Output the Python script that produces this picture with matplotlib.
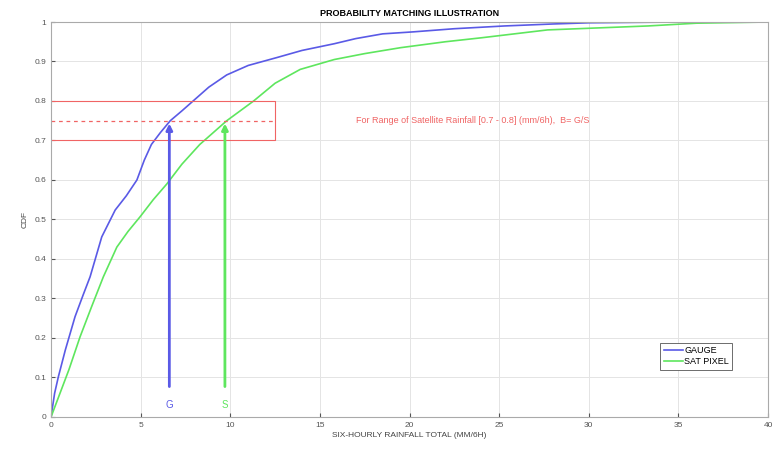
import matplotlib.pyplot as plt

# CDF readings (rainfall mm/6h, cumulative probability)
gauge_x = [0, 0.2, 0.41, 0.8, 1.34, 1.8, 2.18, 2.83, 3.58, 4.2, 4.79, 5.2, 5.6, 6.1, 6.65,
           7.3, 7.8, 8.8, 9.8, 11.0, 12.6, 14.0, 15.8, 17.0, 18.5, 20.2, 22.5, 25.3, 28.0,
           30.0, 35.0, 40.0]
gauge_y = [0, 0.06, 0.102, 0.17, 0.254, 0.31, 0.355, 0.456, 0.524, 0.56, 0.6, 0.65, 0.69,
           0.72, 0.75, 0.775, 0.795, 0.835, 0.866, 0.89, 0.91, 0.928, 0.945, 0.958, 0.97,
           0.975, 0.983, 0.99, 0.995, 0.998, 1.0, 1.0]

sat_x = [0, 0.5, 1.0, 1.62, 2.27, 2.92, 3.67, 4.3, 4.97, 5.7, 6.46, 7.3, 8.3, 9.8, 11.3,
         12.5, 13.9, 15.8, 17.5, 19.5, 22.0, 24.0, 27.7, 30.5, 33.3, 36.0, 40.0]
sat_y = [0, 0.06, 0.12, 0.203, 0.28, 0.355, 0.43, 0.47, 0.507, 0.55, 0.59, 0.64, 0.69,
         0.75, 0.8, 0.845, 0.88, 0.905, 0.92, 0.935, 0.95, 0.96, 0.98, 0.985, 0.99, 0.997,
         1.0]

prob_lo, prob_mid, prob_hi = 0.7, 0.75, 0.8
box_right = 12.5
g_value = 6.6
s_value = 9.7

blue = "#5a5ae6"
green = "#5ee65e"
red = "#f06464"

plt.rcParams["font.family"] = ["Liberation Sans", "DejaVu Sans"]

fig = plt.figure(figsize=(7.79, 4.49), dpi=100)
ax = fig.add_axes([0.0655, 0.0713, 0.9205, 0.8797])

ax.plot(gauge_x, gauge_y, color=blue, lw=1.2, label="GAUGE")
ax.plot(sat_x, sat_y, color=green, lw=1.2, label="SAT PIXEL")

# probability range box
ax.plot([0, box_right, box_right, 0], [prob_hi, prob_hi, prob_lo, prob_lo], color=red, lw=0.8)
ax.plot([0, box_right], [prob_mid, prob_mid], color=red, lw=0.9, ls=(0, (3, 3)))

ax.annotate("", xy=(g_value, prob_mid), xytext=(g_value, 0.07),
            arrowprops=dict(arrowstyle="-|>", color=blue, lw=2, mutation_scale=9))
ax.annotate("", xy=(s_value, prob_mid), xytext=(s_value, 0.07),
            arrowprops=dict(arrowstyle="-|>", color=green, lw=2, mutation_scale=9))
ax.text(g_value, 0.03, "G", color=blue, fontsize=7, ha="center", va="center")
ax.text(s_value, 0.03, "S", color=green, fontsize=7, ha="center", va="center")

ax.text(17.0, prob_mid, "For Range of Satellite Rainfall [0.7 - 0.8] (mm/6h),  B= G/S",
        color=red, fontsize=6.5, va="center")

ax.set_xlim(0, 40)
ax.set_ylim(0, 1)
ax.set_xticks(range(0, 41, 5))
ax.set_yticks([i / 10 for i in range(11)])
ax.set_yticklabels(["0", "0.1", "0.2", "0.3", "0.4", "0.5", "0.6", "0.7", "0.8", "0.9", "1"])
ax.tick_params(direction="in", labelsize=6, colors="#555555", length=3)
ax.grid(True, color="#e4e4e4", lw=0.7)
for sp in ax.spines.values():
    sp.set_color("#aaaaaa")

ax.set_xlabel("SIX-HOURLY RAINFALL TOTAL (MM/6H)", fontsize=6, color="#444444", labelpad=2)
ax.set_ylabel("CDF", fontsize=6, color="#444444", labelpad=4)
ax.set_title("PROBABILITY MATCHING ILLUSTRATION", fontsize=6.5, fontweight="bold", pad=4)

leg = ax.legend(loc="lower right", bbox_to_anchor=(0.95, 0.12), fontsize=6.5, handlelength=2.2,
                handletextpad=0.1, borderpad=0.35, labelspacing=0.25, fancybox=False,
                framealpha=1, borderaxespad=0)
leg.get_frame().set_edgecolor("#555555")
leg.get_frame().set_linewidth(0.6)

fig.savefig("out.png", dpi=100)
